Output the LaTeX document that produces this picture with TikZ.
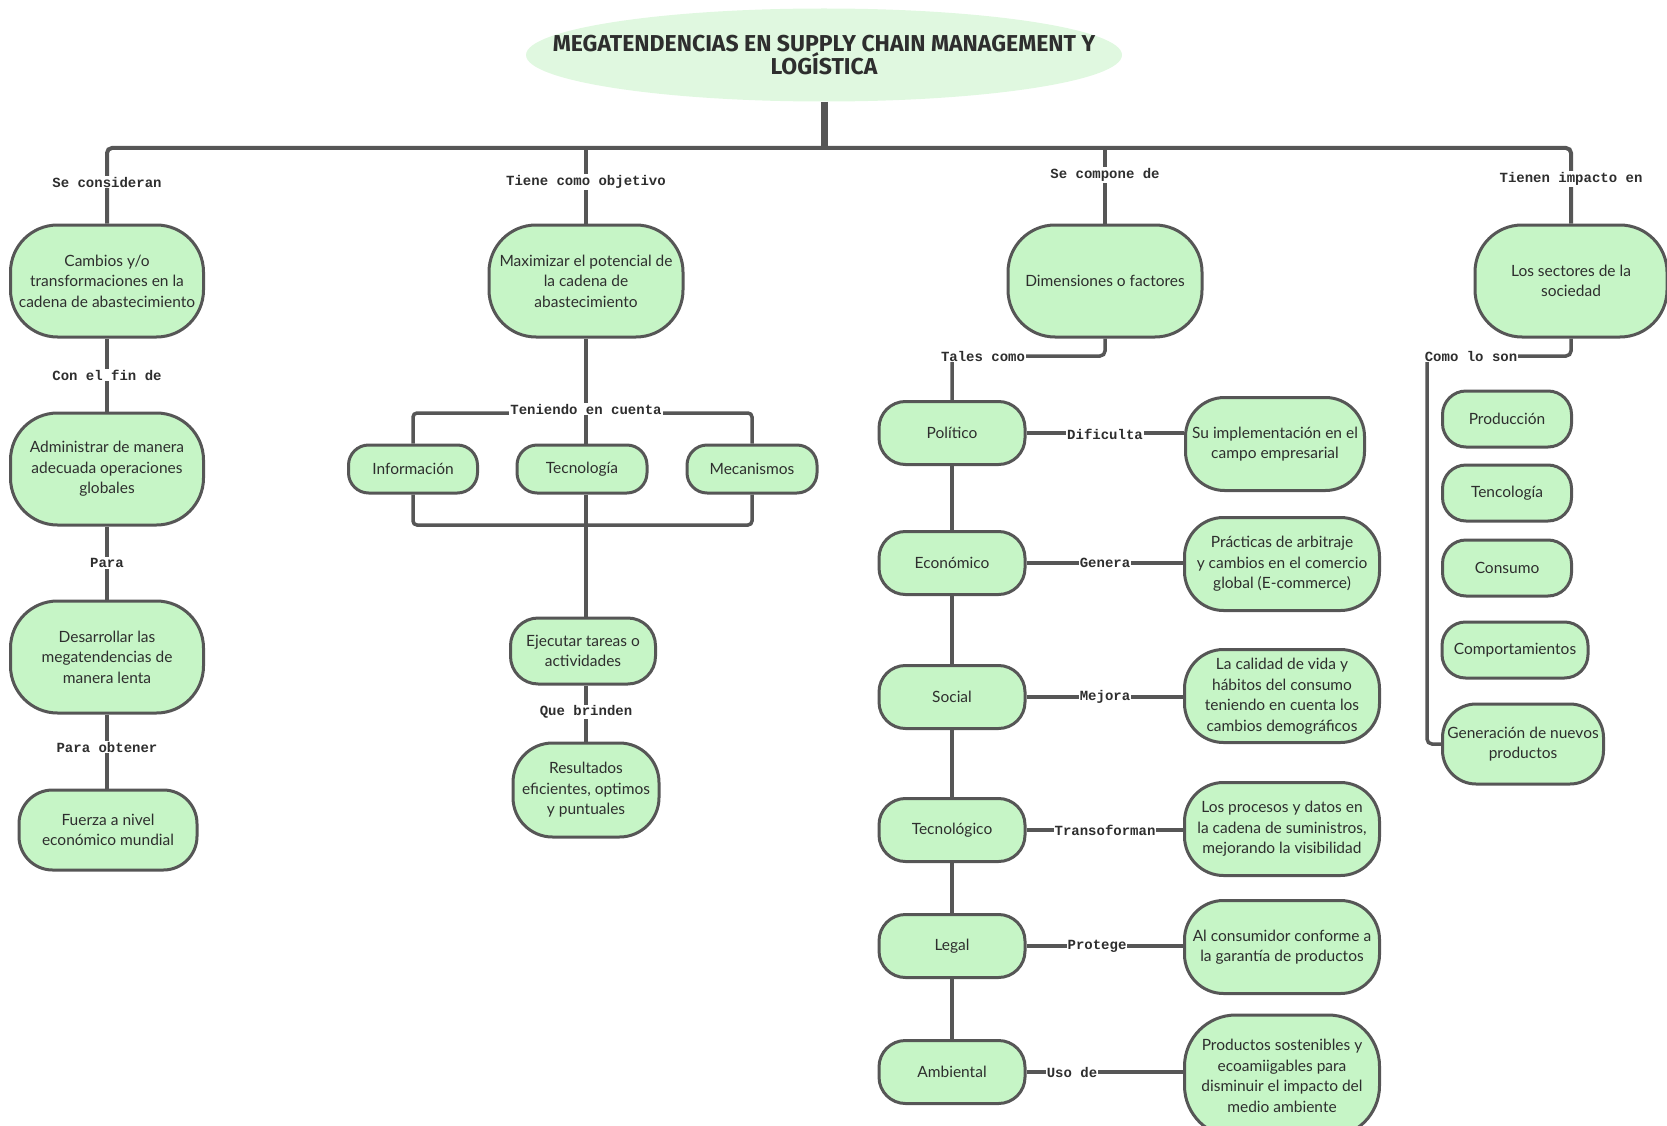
\documentclass[tikz,border=0pt]{standalone}
\usepackage{fontspec}
\setmainfont{Lato}
\newfontfamily\labelfont{Liberation Mono}
\newfontfamily\titlefont{Fira Sans}
\usetikzlibrary{shapes.geometric,backgrounds}

\definecolor{boxfill}{HTML}{C6F5C6}
\definecolor{titlefill}{HTML}{E0F8E0}
\definecolor{linegray}{HTML}{565656}
\definecolor{textgray}{HTML}{2E2E2E}

\tikzset{
  box/.style 2 args={rectangle, rounded corners=0.42*#2,
    minimum width=#1, minimum height=#2,
    draw=linegray, line width=3pt, fill=boxfill, text=textgray,
    align=center, inner sep=2pt,
    font=\fontsize{15.5}{20.5}\selectfont},
  conn/.style={draw=linegray, line width=3.5pt},
  lab/.style={fill=white, inner sep=1pt, text=textgray,
    font=\labelfont\bfseries\fontsize{14}{16}\selectfont},
  titletext/.style={align=center, text=textgray, inner sep=0pt,
    font=\titlefont\bfseries\fontsize{23}{25}\selectfont},
}

\begin{document}
\begin{tikzpicture}[x=1pt,y=1pt]
\useasboundingbox (0,0) rectangle (1667,-1126);

% title: pale ellipse with the heading set on top
\node[ellipse, fill=titlefill, minimum width=596, minimum height=93,
  inner sep=0pt] (title) at (824,-55) {};
\node[titletext] (titlelabel) at (title.center)
  {MEGATENDENCIAS EN SUPPLY CHAIN MANAGEMENT Y\\[-2pt]LOGÍSTICA};

% first column
\node[box={193}{112}] (c1) at (107,-281)
  {Cambios y/o\\transformaciones en la\\cadena de abastecimiento};
\node[box={193}{112}] (c2) at (107,-469)
  {Administrar de manera\\adecuada operaciones\\globales};
\node[box={193}{112}] (c3) at (107,-657)
  {Desarrollar las\\megatendencias de\\manera lenta};
\node[box={178}{80}] (c4) at (108,-830)
  {Fuerza a nivel\\económico mundial};

% second column
\node[box={194}{112}] (m1) at (586,-281)
  {Maximizar el potencial de\\la cadena de\\abastecimiento};
\node[box={129}{48}] (info) at (413,-469) {Información};
\node[box={130}{48}] (tecno) at (582,-469) {Tecnología};
\node[box={130}{48}] (meca) at (752,-469) {Mecanismos};
\node[box={145}{66}] (ejec) at (583,-651)
  {Ejecutar tareas o\\actividades};
\node[box={146}{94}] (res) at (586,-790)
  {Resultados\\eficientes, optimos\\y puntuales};

% third column
\node[box={194}{112}] (dim) at (1105,-281)
  {Dimensiones o factores};
\node[box={146}{63}] (pol) at (952,-433) {Político};
\node[box={146}{63}] (eco) at (952,-563) {Económico};
\node[box={146}{63}] (soc) at (952,-697) {Social};
\node[box={146}{63}] (tec) at (952,-830) {Tecnológico};
\node[box={146}{63}] (leg) at (952,-946) {Legal};
\node[box={146}{63}] (amb) at (952,-1072) {Ambiental};

\node[box={179}{93}] (r1) at (1275,-444)
  {Su implementación en el\\campo empresarial};
\node[box={195}{93}] (r2) at (1282,-564)
  {Prácticas de arbitraje\\y cambios en el comercio\\global (E-commerce)};
\node[box={195}{93}] (r3) at (1282,-696)
  {La calidad de vida y\\hábitos del consumo\\teniendo en cuenta los\\cambios demográficos};
\node[box={195}{93}] (r4) at (1282,-829)
  {Los procesos y datos en\\la cadena de suministros,\\mejorando la visibilidad};
\node[box={195}{93}] (r5) at (1282,-947)
  {Al consumidor conforme a\\la garantía de productos};
\node[box={195}{122}] (r6) at (1282,-1076)
  {Productos sostenibles y\\ecoamiigables para\\disminuir el impacto del\\medio ambiente};

% fourth column
\node[box={192}{112}] (s1) at (1571,-281)
  {Los sectores de la\\sociedad};
\node[box={129}{56}] (p1) at (1507,-419) {Producción};
\node[box={129}{56}] (p2) at (1507,-493) {Tencología};
\node[box={129}{56}] (p3) at (1507,-568) {Consumo};
\node[box={146}{56}] (p4) at (1515,-650) {Comportamientos};
\node[box={161}{80}] (p5) at (1523,-744)
  {Generación de nuevos\\productos};

% helper coordinates for the bus and brackets
\coordinate (bus) at (824,-148);
\coordinate (bt) at (586,-413);
\coordinate (bb) at (586,-525);
\coordinate (tc) at (1105,-356);
\coordinate (cl) at (1427,-356);

\begin{pgfonlayer}{background}
% trunk and main bus
\draw[draw=linegray, line width=7pt] (title.south) -- (bus);
\draw[conn, line width=4pt, rounded corners=5]
  (c1.north) -- (c1.north |- bus) -- (s1.north |- bus) -- (s1.north);
\draw[conn] (m1.north) -- (m1.north |- bus);
\draw[conn] (dim.north) -- (dim.north |- bus);

% first column chain
\draw[conn] (c1) -- (c2);
\draw[conn] (c2) -- (c3);
\draw[conn] (c3.south) -- (c3.south |- c4.north);

% second column
\draw[conn] (m1.south) -- (bt) -- (bt |- tecno.north);
\draw[conn, rounded corners=4] (info.north) -- (info.north |- bt) -- (meca.north |- bt) -- (meca.north);
\draw[conn, rounded corners=4] (info.south) -- (info.south |- bb) -- (meca.south |- bb) -- (meca.south);
\draw[conn] (bt |- tecno.south) -- (bb) -- (bb |- ejec.north);
\draw[conn] (ejec.south -| bb) -- (bb |- res.north);

% third column
\draw[conn, rounded corners=5] (dim.south) -- (tc) -- (tc -| pol.north) -- (pol.north);
\draw[conn] (pol) -- (eco);
\draw[conn] (eco) -- (soc);
\draw[conn] (soc) -- (tec);
\draw[conn] (tec) -- (leg);
\draw[conn] (leg) -- (amb);
\draw[conn] (pol.east) -- (pol.east -| r1.west);
\draw[conn] (eco.east) -- (eco.east -| r2.west);
\draw[conn] (soc.east) -- (soc.east -| r3.west);
\draw[conn] (tec.east) -- (tec.east -| r4.west);
\draw[conn] (leg.east) -- (leg.east -| r5.west);
\draw[conn] (amb.east) -- (amb.east -| r6.west);

% fourth column
\draw[conn, rounded corners=5] (s1.south) -- (s1.south |- cl) -- (cl) -- (cl |- p5.west) -- (p5.west);
\end{pgfonlayer}

% connector labels
\node[lab] (l1) at (107,-182) {Se consideran};
\node[lab] (l2) at (107,-375) {Con el fin de};
\node[lab] (l3) at (107,-563) {Para};
\node[lab] (l4) at (107,-747) {Para obtener};
\node[lab] (l5) at (586,-182) {Tiene como objetivo};
\node[lab] (l6) at (586,-409) {Teniendo en cuenta};
\node[lab] (l7) at (586,-712) {Que brinden};
\node[lab] (l8) at (1105,-175) {Se compone de};
\node[lab] (l9) at (983,-356) {Tales como};
\node[lab] (l10) at (1105,-434) {Dificulta};
\node[lab] (l11) at (1105,-563) {Genera};
\node[lab] (l12) at (1105,-697) {Mejora};
\node[lab] (l13) at (1105,-830) {Transoforman};
\node[lab] (l14) at (1097,-946) {Protege};
\node[lab] (l15) at (1072,-1072) {Uso de};
\node[lab] (l16) at (1571,-179) {Tienen impacto en};
\node[lab] (l17) at (1471,-356) {Como lo son};
\end{tikzpicture}
\end{document}
